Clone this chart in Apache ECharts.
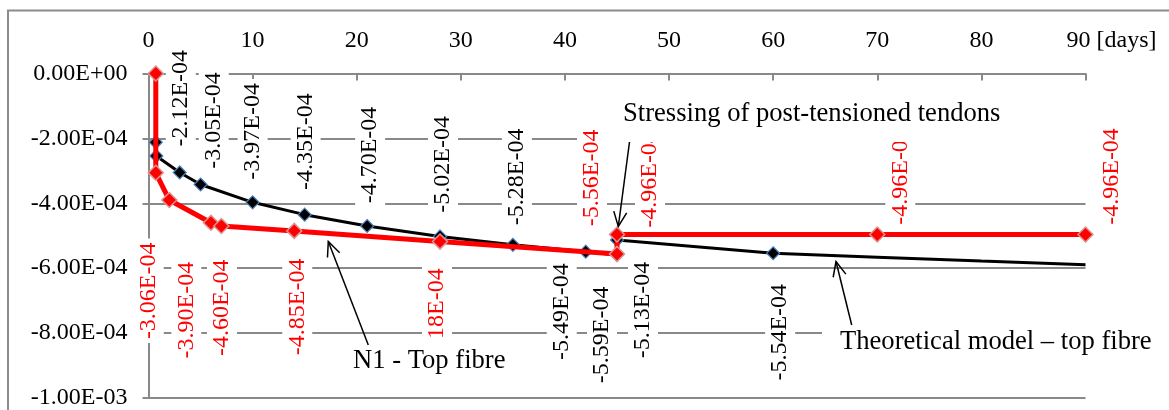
<!DOCTYPE html>
<html><head><meta charset="utf-8">
<script src="https://cdn.jsdelivr.net/npm/echarts@6/dist/echarts.min.js"></script>
<style>html,body{margin:0;padding:0;background:#fff}#c{width:1169px;height:410px}</style>
</head><body><div id="c"></div>
<script>
// ---- data ----
const xTicks = [0,10,20,30,40,50,60,70,80,90];
const xTickLabels = ['0','10','20','30','40','50','60','70','80','90 [days]'];
const yTicks = [0,-2e-4,-4e-4,-6e-4,-8e-4,-1e-3];
const yTickLabels = ['0.00E+00','-2.00E-04','-4.00E-04','-6.00E-04','-8.00E-04','-1.00E-03'];

// Theoretical model – top fibre (marked points)
const theoryDays   = [0.7, 0.75, 3, 5, 10, 15, 21, 28, 35, 42, 45, 45, 60];
const theoryVals   = [-2.12e-4,-2.54e-4,-3.05e-4,-3.42e-4,-3.97e-4,-4.35e-4,-4.70e-4,-5.02e-4,-5.28e-4,-5.49e-4,-5.59e-4,-5.13e-4,-5.54e-4];
const theoryLabels = ['-2.12E-04','','-3.05E-04','','-3.97E-04','-4.35E-04','-4.70E-04','-5.02E-04','-5.28E-04','-5.49E-04','-5.59E-04','-5.13E-04','-5.54E-04'];
// continuation of the theoretical curve (no markers)
const theoryTailDays = [70, 80, 90];
const theoryTailVals = [-5.66e-4,-5.78e-4,-5.89e-4];

// N1 - Top fibre (measured)
const topDays   = [0.7, 0.7, 2, 6, 7, 14, 28, 45, 45, 70, 90];
const topVals   = [0,-3.06e-4,-3.90e-4,-4.60e-4,-4.70e-4,-4.85e-4,-5.18e-4,-5.56e-4,-4.96e-4,-4.96e-4,-4.96e-4];
const topLabels = ['','-3.06E-04','-3.90E-04','-4.60E-04','','-4.85E-04','-5.18E-04','-5.56E-04','-4.96E-04','-4.96E-04','-4.96E-04'];

// ---- layout (label centre offsets on screen in px, relative to the marker) ----
const theoryLabelOffsets = [[25,-44],null,[34,-52],null,[0,-71],[1,-73],[3,-71],[3,-72],[4,-68],[-24,60],[-15,80],[26,70],[7,79]];
const topLabelOffsets = [null,[-7,118],[17,110],[11,85],null,[3,76],[-3,75],[-25,-76],[33,-55],[23,-58],[26,-58]];

const FONT = '"Liberation Serif","Times New Roman",serif';
const GRAY = '#898989';

function mkLabel(text, off, color){
  const o = off || [0,0];
  return {
    show: !!text, formatter: text || '', position: 'inside', rotate: 90,
    // label offset is expressed in the rotated text frame
    offset: [-o[1], o[0]], align: 'center', verticalAlign: 'middle',
    color: color, fontFamily: FONT, fontSize: 24, lineHeight: 24,
    backgroundColor: '#fff', padding: [3, 4]
  };
}

const theoryData = theoryDays.map((d,i)=>({value:[d, theoryVals[i]], label: mkLabel(theoryLabels[i], theoryLabelOffsets[i], '#000')}))
  .concat(theoryTailDays.map((d,i)=>({value:[d, theoryTailVals[i]], symbol:'none', label:{show:false}})));
const topData = topDays.map((d,i)=>({value:[d, topVals[i]], label: mkLabel(topLabels[i], topLabelOffsets[i], '#ff0000')}));

function arrow(x1,y1,x2,y2){ // tail -> tip
  const a = Math.atan2(y2-y1, x2-x1), L = 16, s = 0.42;
  const p1 = [x2 - L*Math.cos(a - s), y2 - L*Math.sin(a - s)];
  const p2 = [x2 - L*Math.cos(a + s), y2 - L*Math.sin(a + s)];
  return [
    {type:'line', z:110, shape:{x1,y1,x2,y2}, style:{stroke:'#000', lineWidth:1.5}},
    {type:'polyline', z:110, shape:{points:[p1,[x2,y2],p2]}, style:{stroke:'#000', lineWidth:1.5, fill:null}}
  ];
}
function box(x,y,w,h){ return {type:'rect', z:100, shape:{x,y,width:w,height:h}, style:{fill:'#fff'}}; }
function txt(x,y,t){ return {type:'text', z:105, x, y, style:{text:t, font:'26.6px '+FONT, fill:'#000', verticalAlign:'middle'}}; }

const chart = echarts.init(document.getElementById('c'), null, {renderer:'canvas'});
chart.setOption({
  animation: false,
  backgroundColor: '#fff',
  grid: {left: 148.5, right: 83.5, top: 73.5, bottom: 8.5},
  xAxis: {
    type:'value', position:'top', min:0, max:90, interval:10,
    axisLine:{show:true, onZero:false, lineStyle:{color:GRAY, width:2}},
    axisTick:{show:true, inside:true, length:7, lineStyle:{color:GRAY, width:2}},
    splitLine:{show:false},
    axisLabel:{
      show:true, margin:21, showMinLabel:true, showMaxLabel:true,
      color:'#000', fontFamily:FONT, fontSize:24,
      formatter:(v)=>{ const i = xTicks.indexOf(Math.round(v)); const t = i>=0 ? xTickLabels[i] : '';
        return i === xTicks.length-1 ? '{last|'+t+'}' : t; },
      rich:{ last:{ fontFamily:FONT, fontSize:24, color:'#000', padding:[0,0,0,52] } }
    }
  },
  yAxis: {
    type:'value', min:-0.001, max:0, interval:0.0002,
    axisLine:{show:true, onZero:false, lineStyle:{color:GRAY, width:2}},
    axisTick:{show:true, inside:false, length:6, lineStyle:{color:GRAY, width:2}},
    splitLine:{show:true, lineStyle:{color:GRAY, width:2}},
    axisLabel:{
      margin:21, color:'#000', fontFamily:FONT, fontSize:24,
      formatter:(v)=>{ let best=0, bd=1; yTicks.forEach((t,i)=>{ const d=Math.abs(t-v); if(d<bd){bd=d;best=i;} }); return yTickLabels[best]; }
    }
  },
  series: [
    {
      name:'Theoretical model – top fibre', type:'line', data: theoryData, clip:false,
      showAllSymbol:true, symbol:'diamond', symbolSize:13,
      lineStyle:{color:'#000', width:3},
      itemStyle:{color:'#000', borderColor:'#4f81bd', borderWidth:1.2},
      emphasis:{disabled:true}, z:2
    },
    {
      name:'N1 - Top fibre', type:'line', data: topData, clip:false,
      showAllSymbol:true, symbol:'diamond', symbolSize:15,
      lineStyle:{color:'#ff0000', width:5},
      itemStyle:{color:'#ff0000', borderColor:'#d99694', borderWidth:1.5},
      emphasis:{disabled:true}, z:3
    }
  ],
  graphic: [
    {type:'rect', z:120, shape:{x:8, y:10.5, width:1200, height:420}, style:{fill:null, stroke:'#8c8c8c', lineWidth:2}},
    box(603, 90, 483, 52),
    txt(623, 114, 'Stressing of post-tensioned tendons'),
    box(345, 337, 180, 55),
    txt(353, 361, 'N1 - Top fibre'),
    box(822, 322, 345, 42),
    txt(840, 342, 'Theoretical model – top fibre'),
    ...arrow(629.5, 142, 618.3, 226.5),
    ...arrow(368.3, 345, 328.3, 241.5),
    ...arrow(851.7, 325, 836, 261.5)
  ]
});
</script>
</body></html>
